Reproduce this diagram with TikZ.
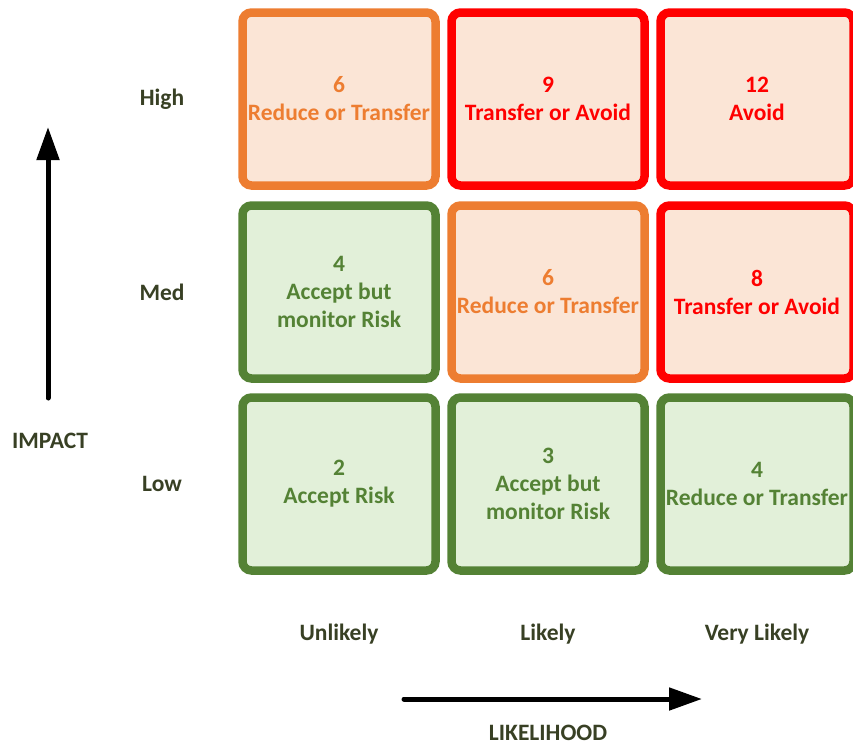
\documentclass[tikz,border=0pt]{standalone}
\usepackage{fontspec}
\setmainfont{Carlito}
\usepackage{xcolor}
\usepackage{tikz}
\usetikzlibrary{
	arrows.meta,
	positioning
}
\definecolor{LabelGreen}{RGB}{56,64,36}
\definecolor{LowLine}{RGB}{84,130,53}
\definecolor{LowFill}{RGB}{226,240,217}
\definecolor{MedLine}{RGB}{237,125,49}
\definecolor{HighLine}{RGB}{255,0,0}
\definecolor{WarmFill}{RGB}{251,229,214}

\tikzset{
	cell/.style={rectangle, rounded corners=9pt, line width=8.5pt,
		minimum width=193pt, minimum height=173pt, inner sep=0pt,
		align=center, font=\bfseries\fontsize{23.5}{28}\selectfont},
	lowcell/.style={cell, draw=LowLine, fill=LowFill, text=LowLine},
	medcell/.style={cell, draw=MedLine, fill=WarmFill, text=MedLine},
	highcell/.style={cell, draw=HighLine, fill=WarmFill, text=HighLine},
	axislabel/.style={text=LabelGreen, font=\bfseries\fontsize{23.5}{28}\selectfont},
	axisarrow/.style={line width=5pt, line cap=round, -{Triangle[length=33pt, width=22pt]}}
}

\begin{document}
\begin{tikzpicture}[x=1pt, y=-1pt]
		\useasboundingbox (0,0) rectangle (853,747);
		% risk cells
		\node[medcell]  (c11) at (339,99)  {6\\Reduce or Transfer};
		\node[highcell] (c12) at (548,99)  {9\\Transfer or Avoid};
		\node[highcell] (c13) at (757,99)  {12\\Avoid};
		\node[lowcell]  (c21) at (339,292) {4\\Accept but\\monitor Risk};
		\node[medcell]  (c22) at (548,292) {6\\Reduce or Transfer};
		\node[highcell] (c23) at (757,292) {8\\Transfer or Avoid};
		\node[lowcell]  (c31) at (339,484) {2\\Accept Risk};
		\node[lowcell]  (c32) at (548,484) {3\\Accept but\\monitor Risk};
		\node[lowcell]  (c33) at (757,484) {4\\Reduce or Transfer};
		% impact levels
		\node[axislabel] (high) at (162,99)  {High};
		\node[axislabel] (med)  at (162,292) {Med};
		\node[axislabel] (low)  at (162,484) {Low};
		% likelihood levels
		\node[axislabel] (unlikely) at (339,634) {Unlikely};
		\node[axislabel] (likely)   at (548,634) {Likely};
		\node[axislabel] (vlikely)  at (757,634) {Very Likely};
		% axes
		\coordinate (impactfrom) at (48,398);
		\coordinate (impactto)   at (48,127);
		\draw[axisarrow] (impactfrom) -- (impactto);
		\node[axislabel] (impact) at (50,441) {IMPACT};
		\coordinate (likefrom) at (404,699);
		\coordinate (liketo)   at (702,699);
		\draw[axisarrow] (likefrom) -- (liketo);
		\node[axislabel] (likelihood) at (548,733) {LIKELIHOOD};
	\end{tikzpicture}
\end{document}
